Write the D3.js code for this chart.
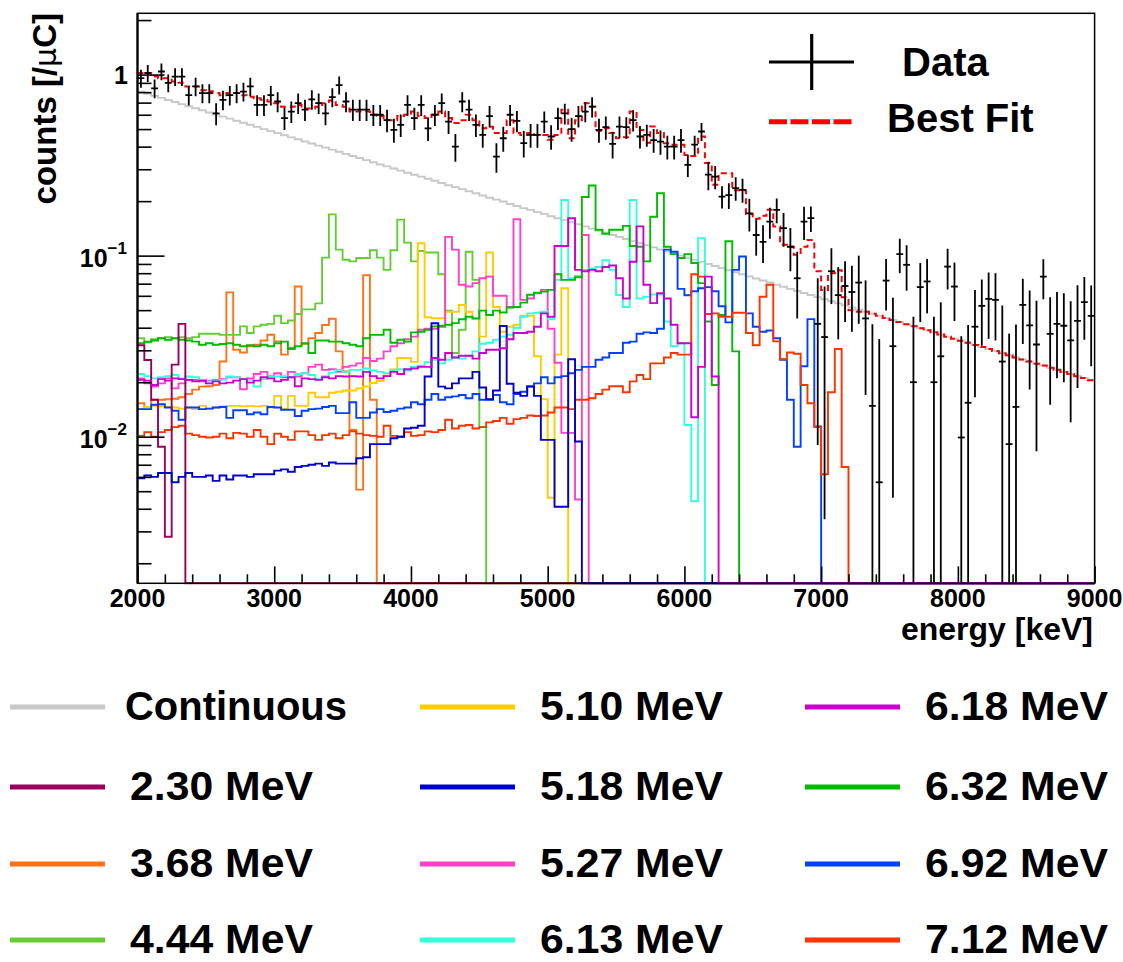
<!DOCTYPE html>
<html><head><meta charset="utf-8">
<script src="https://cdn.jsdelivr.net/npm/d3@7"></script>
<style>
body{margin:0;background:#fff}
svg{display:block}
text{font-family:"Liberation Sans",Arial,Helvetica,sans-serif;font-weight:bold;fill:#000}
</style>
</head><body>
<svg id="c" width="1123" height="962"></svg>
<script>
// ---------------- data ----------------
const binLow = 2000, binWidth = 50, nBins = 140;

const continuous = [0.805,0.784,0.764,0.744,0.724,0.705,0.687,0.669,0.652,0.635,
0.618,0.602,0.586,0.571,0.556,0.542,0.528,0.514,0.500,0.487,
0.475,0.462,0.450,0.439,0.427,0.416,0.405,0.395,0.385,0.375,
0.365,0.355,0.346,0.337,0.328,0.319,0.311,0.303,0.295,0.287,
0.280,0.273,0.266,0.259,0.252,0.245,0.239,0.233,0.227,0.221,
0.215,0.209,0.204,0.199,0.193,0.188,0.183,0.179,0.174,0.170,
0.165,0.161,0.157,0.153,0.149,0.145,0.141,0.137,0.134,0.130,
0.127,0.1235,0.1203,0.1171,0.1141,0.1111,0.1082,0.1054,0.1027,0.1000,
0.0974,0.0948,0.0924,0.0900,0.0876,0.0853,0.0831,0.0810,0.0789,0.0768,
0.0748,0.0729,0.0710,0.0691,0.0673,0.0655,0.0638,0.0622,0.0606,0.0590,
0.0574,0.0560,0.0545,0.0531,0.0517,0.0503,0.0490,0.0478,0.0465,0.0453,
0.0441,0.0430,0.0418,0.0408,0.0397,0.0387,0.0377,0.0367,0.0357,0.0348,
0.0339,0.0330,0.0321,0.0313,0.0305,0.0297,0.0289,0.0282,0.0274,0.0267,
0.0260,0.0253,0.0247,0.0240,0.0234,0.0228,0.0222,0.0216,0.0211,0.0205];

const bestFit = [1.02,1.02,0.975,0.955,0.955,0.915,0.90,0.86,0.86,0.82,
0.81,0.79,0.77,0.79,0.79,0.77,0.755,0.74,0.725,0.71,
0.695,0.665,0.665,0.68,0.65,0.65,0.665,0.695,0.72,0.68,
0.665,0.625,0.625,0.625,0.60,0.59,0.56,0.56,0.59,0.60,
0.625,0.59,0.575,0.60,0.625,0.575,0.54,0.56,0.60,0.56,
0.505,0.515,0.475,0.475,0.56,0.475,0.464,0.475,0.464,0.464,
0.436,0.464,0.64,0.445,0.56,0.695,0.665,0.49,0.505,0.475,
0.445,0.45,0.625,0.495,0.42,0.516,0.475,0.418,0.41,0.41,
0.36,0.355,0.455,0.325,0.246,0.285,0.285,0.23,0.23,0.17,
0.16,0.166,0.179,0.145,0.115,0.112,0.101,0.112,0.122,0.082,
0.0647,0.08,0.083,0.059,0.05,0.049,0.0490,0.0478,0.0465,0.0453,
0.0441,0.0430,0.0418,0.0408,0.0397,0.0387,0.0377,0.0367,0.0357,0.0348,
0.0339,0.0330,0.0321,0.0313,0.0305,0.0297,0.0289,0.0282,0.0274,0.0267,
0.0260,0.0253,0.0247,0.0240,0.0234,0.0228,0.0222,0.0216,0.0211,0.0205];

const dataVal = [0.955,1.02,0.84,1.04,0.90,0.975,0.975,0.77,0.86,0.79,
0.79,0.61,0.725,0.77,0.79,0.805,0.86,0.68,0.68,0.77,
0.71,0.575,0.625,0.695,0.64,0.73,0.695,0.61,0.75,0.875,
0.71,0.64,0.64,0.64,0.60,0.60,0.56,0.495,0.527,0.68,
0.575,0.68,0.505,0.60,0.695,0.55,0.40,0.71,0.64,0.527,
0.464,0.59,0.352,0.445,0.60,0.555,0.418,0.464,0.464,0.55,
0.455,0.575,0.61,0.50,0.59,0.625,0.665,0.495,0.512,0.414,
0.516,0.512,0.56,0.455,0.464,0.435,0.426,0.40,0.40,0.435,
0.317,0.41,0.485,0.28,0.273,0.212,0.216,0.236,0.231,0.171,
0.13,0.119,0.154,0.179,0.142,0.112,0.075,0.154,0.161,0.042,
0.0355,0.082,0.0605,0.068,0.063,0.071,0.045,0.0148,0.0056,0.0728,
0.0316,0.102,0.089,0.020,0.067,0.072,0.020,0.0278,0.087,0.0675,
0.0099,0.0154,0.0405,0.0528,0.0577,0.057,0.026,0.0091,0.0146,0.0535,
0.0412,0.0323,0.0765,0.037,0.042,0.041,0.034,0.0436,0.0553,0.0465];

const dataErr = [0.11,0.11,0.10,0.11,0.10,0.11,0.11,0.095,0.10,0.095,
0.095,0.085,0.09,0.095,0.095,0.095,0.10,0.09,0.09,0.095,
0.09,0.08,0.085,0.09,0.085,0.09,0.09,0.085,0.09,0.10,
0.09,0.085,0.085,0.085,0.08,0.08,0.08,0.075,0.075,0.09,
0.08,0.09,0.075,0.08,0.09,0.08,0.07,0.09,0.085,0.075,
0.07,0.08,0.065,0.07,0.08,0.075,0.07,0.07,0.07,0.075,
0.07,0.08,0.08,0.075,0.08,0.08,0.085,0.075,0.075,0.07,
0.07,0.07,0.075,0.065,0.065,0.065,0.065,0.06,0.06,0.065,
0.045,0.05,0.055,0.05,0.04,0.03,0.035,0.035,0.035,0.035,
0.03,0.028,0.03,0.028,0.03,0.03,0.03,0.032,0.026,0.033,
0.032,0.028,0.026,0.025,0.025,0.029,0.028,0.027,0.029,0.023,
0.027,0.022,0.025,0.026,0.024,0.024,0.026,0.0275,0.022,0.024,
0.026,0.026,0.024,0.021,0.023,0.023,0.027,0.028,0.027,0.021,
0.023,0.024,0.019,0.022,0.021,0.021,0.022,0.025,0.021,0.022];

const c230 = [0.032,0.0265,0.016,0.0088,0.0028,0.025,0.042];

const c368 = [0.0153,0.0146,0.016,0.016,0.0161,0.0162,0.0165,0.0172,0.0182,0.0189,
0.019,0.0193,0.026,0.0627,0.0302,0.0292,0.0316,0.0322,0.034,0.0366,
0.0336,0.0284,0.031,0.0676,0.0326,0.035,0.0374,0.0414,0.0448,0.0296,
0.0229,0.0109,0.0051,0.078,0.016];

const c444 = [0.035,0.0332,0.0345,0.035,0.0355,0.035,0.0355,0.035,0.0355,0.037,
0.037,0.037,0.0365,0.0365,0.0365,0.0407,0.0374,0.0407,0.0415,0.042,
0.0466,0.0424,0.0438,0.0476,0.0505,0.0505,0.0545,0.0975,0.169,0.108,
0.095,0.093,0.097,0.097,0.107,0.0975,0.0834,0.107,0.158,0.118,
0.093,0.106,0.104,0.104,0.079,0.0497,0.029,0.039,0.105,0.0735,
0.0113];

const c510 = [0.0142,0.0146,0.0148,0.0147,0.0146,0.0145,0.0143,0.0145,0.0142,0.0148,
0.0143,0.0145,0.0147,0.0148,0.0148,0.0147,0.0148,0.0147,0.0148,0.0145,
0.0168,0.0142,0.0168,0.0148,0.0148,0.0175,0.0165,0.0165,0.0175,0.0177,
0.018,0.018,0.0185,0.0189,0.0198,0.0203,0.0218,0.0235,0.0272,0.0272,
0.0259,0.117,0.0457,0.0451,0.0451,0.049,0.049,0.0534,0.049,0.0451,
0.0357,0.104,0.052,0.038,0.0405,0.0415,0.0466,0.0466,0.0278,0.0161,
0.0046,0.0284,0.066];

const c518 = [0.0059,0.0061,0.006,0.0063,0.0063,0.0056,0.006,0.0063,0.006,0.006,
0.0061,0.0057,0.0061,0.0058,0.0061,0.0061,0.006,0.0062,0.0062,0.0062,
0.0065,0.0066,0.0064,0.0068,0.0069,0.007,0.0071,0.0069,0.0072,0.0071,
0.0071,0.0071,0.0076,0.0077,0.0091,0.0091,0.0091,0.0098,0.010,0.0111,
0.0112,0.0115,0.0215,0.0423,0.0189,0.0185,0.0197,0.021,0.021,0.0228,
0.0187,0.0161,0.018,0.0409,0.0196,0.0175,0.0168,0.0189,0.0168,0.0096,
0.0096,0.0041,0.0041,0.0268,0.0094];

const c527 = [0.021,0.0197,0.0189,0.0197,0.021,0.0185,0.0197,0.0206,0.0206,0.0202,
0.0204,0.0206,0.0208,0.0213,0.0213,0.0183,0.021,0.0222,0.0228,0.0216,
0.0224,0.0213,0.0228,0.0215,0.0224,0.0243,0.025,0.0234,0.0236,0.0228,
0.0243,0.0247,0.0254,0.0272,0.0262,0.027,0.0296,0.0316,0.0328,0.0345,
0.0357,0.039,0.0395,0.0395,0.0405,0.127,0.108,0.069,0.0676,0.0705,
0.075,0.0766,0.06,0.06,0.052,0.159,0.057,0.058,0.062,0.0647,
0.0395,0.0256,0.0105,0.0105,0.0045,0.13];

const c613 = [0.0222,0.0216,0.021,0.0213,0.0216,0.0219,0.021,0.0215,0.0213,0.0206,
0.0202,0.0204,0.0206,0.0215,0.0213,0.0208,0.0206,0.0189,0.0208,0.0215,
0.0215,0.0216,0.0213,0.0222,0.0224,0.0219,0.0208,0.0216,0.0226,0.0234,
0.0228,0.0234,0.0234,0.0238,0.0232,0.0228,0.0224,0.0234,0.0236,0.0232,
0.0243,0.0247,0.0258,0.0266,0.0254,0.0266,0.0274,0.027,0.028,0.0296,
0.0326,0.033,0.0343,0.0357,0.0366,0.04,0.046,0.048,0.0484,0.049,
0.0445,0.0735,0.203,0.075,0.0773,0.0834,0.085,0.0866,0.0943,0.0834,
0.0606,0.052,0.203,0.058,0.0593,0.061,0.061,0.0433,0.0316,0.0328,
0.0116,0.0044,0.125];

const c618 = [0.0206,0.0204,0.0193,0.0208,0.0204,0.021,0.0208,0.0206,0.0202,0.0204,
0.0197,0.0202,0.0197,0.0199,0.0204,0.0208,0.0199,0.0204,0.0213,0.021,
0.0202,0.0206,0.0213,0.019,0.021,0.0208,0.0206,0.0213,0.021,0.0216,
0.0215,0.0216,0.0215,0.0228,0.0216,0.021,0.0216,0.0228,0.0222,0.0236,
0.0238,0.0243,0.0243,0.0272,0.0266,0.029,0.0274,0.028,0.028,0.027,
0.029,0.0302,0.0302,0.0308,0.0345,0.0374,0.0374,0.038,0.0405,0.048,
0.046,0.113,0.113,0.161,0.0834,0.082,0.0834,0.082,0.0866,0.0883,
0.075,0.058,0.0925,0.145,0.069,0.0547,0.062,0.058,0.0415,0.0328,
0.0328,0.0128,0.0243,0.0766,0.0215];

const c632 = [0.0328,0.0335,0.034,0.035,0.0343,0.035,0.0343,0.034,0.0335,0.0322,
0.0328,0.0322,0.0325,0.0328,0.0322,0.0316,0.032,0.0316,0.0322,0.0316,
0.0328,0.0335,0.0305,0.0316,0.0328,0.029,0.034,0.034,0.0335,0.0335,
0.0328,0.0322,0.0316,0.035,0.0365,0.0365,0.039,0.033,0.0343,0.0335,
0.0377,0.038,0.039,0.0407,0.041,0.0415,0.0424,0.0445,0.046,0.045,
0.0497,0.047,0.0497,0.0485,0.0517,0.052,0.055,0.0608,0.0625,0.0633,
0.0647,0.079,0.0735,0.0735,0.076,0.211,0.244,0.139,0.132,0.139,
0.139,0.146,0.113,0.112,0.093,0.164,0.221,0.112,0.102,0.097,
0.102,0.091,0.0705,0.0433,0.0193,0.047,0.12,0.0296];

const c692 = [0.0142,0.0142,0.015,0.0151,0.0145,0.0139,0.0124,0.0145,0.0145,0.0142,
0.0143,0.0145,0.0146,0.0127,0.014,0.014,0.0133,0.0136,0.0133,0.0146,
0.0145,0.0141,0.0141,0.013,0.0139,0.0142,0.0143,0.0146,0.0148,0.0135,
0.0135,0.0155,0.0127,0.0127,0.0136,0.0142,0.0137,0.0139,0.0143,0.0145,
0.0155,0.0151,0.016,0.0172,0.016,0.0165,0.0167,0.017,0.0163,0.0172,
0.016,0.016,0.017,0.0155,0.0151,0.0172,0.0177,0.019,0.0197,0.0213,
0.0197,0.0213,0.0216,0.0224,0.0234,0.0243,0.0243,0.0266,0.0274,0.029,
0.029,0.033,0.0335,0.037,0.0377,0.0374,0.0395,0.108,0.105,0.0655,
0.0604,0.0636,0.066,0.067,0.0636,0.0525,0.0428,0.0834,0.099,0.048,
0.0405,0.038,0.0386,0.035,0.0266,0.016,0.0088,0.0245,0.0446,0.0114];

const c712 = [0.0101,0.0106,0.010,0.0106,0.0109,0.0113,0.0115,0.0104,0.0102,0.010,
0.0099,0.010,0.0104,0.0098,0.0105,0.0104,0.010,0.0109,0.010,0.0091,
0.0104,0.010,0.0096,0.0107,0.0107,0.0102,0.0096,0.0102,0.0104,0.0098,
0.0102,0.0107,0.0104,0.0102,0.0101,0.010,0.0115,0.0101,0.010,0.0106,
0.0101,0.0102,0.0107,0.0106,0.0109,0.0124,0.0111,0.0115,0.0116,0.0111,
0.0113,0.012,0.0122,0.0127,0.0118,0.0125,0.0127,0.0131,0.013,0.0131,
0.0136,0.0145,0.0145,0.0142,0.016,0.016,0.0163,0.0172,0.0182,0.019,
0.019,0.0176,0.0202,0.0219,0.0208,0.0254,0.0254,0.0274,0.029,0.0284,
0.0284,0.079,0.0766,0.0476,0.048,0.046,0.046,0.0484,0.0484,0.0374,
0.032,0.0593,0.069,0.0336,0.0268,0.0292,0.0287,0.0193,0.0153,0.0113,
0.0062,0.0176,0.0305,0.0068];

const xTicks = [2000,3000,4000,5000,6000,7000,8000,9000];
const yMajor = [1, 0.1, 0.01];

// legend / series description (column-major order as in the legend)
const series = [
  {label:"Continuous", color:"#c8c8c8", values:continuous},
  {label:"2.30 MeV", color:"#99005c", values:c230},
  {label:"3.68 MeV", color:"#ff7316", values:c368},
  {label:"4.44 MeV", color:"#66cc33", values:c444},
  {label:"5.10 MeV", color:"#ffcc00", values:c510},
  {label:"5.18 MeV", color:"#0000cc", values:c518},
  {label:"5.27 MeV", color:"#ff40c8", values:c527},
  {label:"6.13 MeV", color:"#33ffdd", values:c613},
  {label:"6.18 MeV", color:"#cc00cc", values:c618},
  {label:"6.32 MeV", color:"#00bb00", values:c632},
  {label:"6.92 MeV", color:"#0040ff", values:c692},
  {label:"7.12 MeV", color:"#ff3300", values:c712}
];
const drawOrder = ["Continuous","3.68 MeV","4.44 MeV","5.10 MeV","5.27 MeV","6.13 MeV",
                   "6.32 MeV","6.92 MeV","7.12 MeV","2.30 MeV","5.18 MeV","6.18 MeV"];

// ---------------- drawing ----------------
const svg = d3.select("#c");
const X0 = 137.5, X1 = 1094.6, Y0 = 583.3, Y1 = 13.3;
const x = d3.scaleLinear().domain([2000, 9000]).range([X0, X1]);
const y = d3.scaleLog().domain([0.00155, 2.18]).range([Y0, Y1]).clamp(true);
const yv = v => (v > 0 ? y(v) : Y0);

svg.append("defs").append("clipPath").attr("id","clip")
  .append("rect").attr("x", X0).attr("y", Y1).attr("width", X1 - X0).attr("height", Y0 - Y1 + 1.5);

const plot = svg.append("g").attr("clip-path","url(#clip)");

function stepPoints(vals){
  const pts = [];
  for (let i = 0; i < nBins; i++){
    const v = vals[i] || 0;
    const e0 = binLow + i*binWidth;
    pts.push([e0, v], [e0 + binWidth, v]);
  }
  return pts;
}
const line = d3.line().x(d => x(d[0])).y(d => yv(d[1]));

drawOrder.forEach(name => {
  const s = series.find(t => t.label === name);
  plot.append("path").attr("d", line(stepPoints(s.values)))
    .attr("fill","none").attr("stroke", s.color).attr("stroke-width", 1.9)
    .attr("stroke-linejoin","miter");
});

// best fit
plot.append("path").attr("d", line(stepPoints(bestFit)))
  .attr("fill","none").attr("stroke","#ff0000").attr("stroke-width",2)
  .attr("stroke-dasharray","6,4");

// data with error bars
const dg = plot.append("g").attr("stroke","#000").attr("stroke-width",1.8);
dataVal.forEach((v, i) => {
  const e0 = binLow + i*binWidth, ec = e0 + binWidth/2;
  const err = dataErr[i];
  dg.append("line").attr("x1", x(ec)).attr("x2", x(ec))
    .attr("y1", yv(v + err)).attr("y2", yv(v - err));
  dg.append("line").attr("x1", x(e0)).attr("x2", x(e0 + binWidth))
    .attr("y1", yv(v)).attr("y2", yv(v));
});

// frame
svg.append("rect").attr("x", X0).attr("y", Y1).attr("width", X1 - X0).attr("height", Y0 - Y1)
  .attr("fill","none").attr("stroke","#000").attr("stroke-width",1.5);
svg.append("line").attr("x1", X0).attr("x2", X0).attr("y1", Y1).attr("y2", Y0)
  .attr("stroke","#000").attr("stroke-width",2.2);

// x axis ticks (pointing up into the plot)
const xMinor = d3.range(2000, 9001, 200).filter(v => v % 1000 !== 0);
const axX = svg.append("g").attr("transform", `translate(0,${Y0})`);
axX.call(d3.axisBottom(x).tickValues(xTicks).tickSize(-17).tickFormat(""));
axX.call(g => g.select(".domain").remove());
const axXm = svg.append("g").attr("transform", `translate(0,${Y0})`);
axXm.call(d3.axisBottom(x).tickValues(xMinor).tickSize(-9).tickFormat(""));
axXm.call(g => g.select(".domain").remove());
svg.selectAll(".tick line").attr("stroke","#000").attr("stroke-width",1.6);

xTicks.forEach(t => {
  svg.append("text").attr("x", x(t)).attr("y", 607).attr("text-anchor","middle")
    .attr("font-size", 25).text(t);
});
svg.append("text").attr("x", 1093).attr("y", 640).attr("text-anchor","end")
  .attr("font-size", 31).attr("textLength", 192).attr("lengthAdjust","spacingAndGlyphs")
  .text("energy [keV]");

// y axis ticks (pointing right into the plot)
const yMinor = [];
[0.001, 0.01, 0.1, 1].forEach(d => { for (let k = 2; k <= 9; k++){ const v = d*k; if (v >= 0.00155 && v <= 2.18) yMinor.push(v); } });
const axY = svg.append("g").attr("transform", `translate(${X0},0)`);
axY.call(d3.axisLeft(y).tickValues(yMajor).tickSize(-27).tickFormat(""));
axY.call(g => g.select(".domain").remove());
const axYm = svg.append("g").attr("transform", `translate(${X0},0)`);
axYm.call(d3.axisLeft(y).tickValues(yMinor).tickSize(-14).tickFormat(""));
axYm.call(g => g.select(".domain").remove());
svg.selectAll(".tick line").attr("stroke","#000").attr("stroke-width",1.6);

// y tick labels
svg.append("text").attr("x", 128).attr("y", y(1) + 9).attr("text-anchor","end")
  .attr("font-size", 25).text("1");
[[0.1,"\u22121"],[0.01,"\u22122"]].forEach(([v, ex]) => {
  const t = svg.append("text").attr("x", 127).attr("y", y(v) + 11).attr("text-anchor","end").attr("font-size", 25);
  t.append("tspan").text("10");
  t.append("tspan").attr("dy", -13).attr("font-size", 17).text(ex);
});

// y axis title
const yt = svg.append("text").attr("transform","translate(56,13) rotate(-90)")
  .attr("text-anchor","end").attr("font-size", 33);
yt.append("tspan").text("counts [/");
yt.append("tspan").attr("font-weight","normal").attr("font-family","DejaVu Sans").attr("font-size",30).text("\u03bc");
yt.append("tspan").text("C]");

// legend inside plot
svg.append("line").attr("x1",769).attr("x2",854).attr("y1",62).attr("y2",62).attr("stroke","#000").attr("stroke-width",3.2);
svg.append("line").attr("x1",811.7).attr("x2",811.7).attr("y1",34).attr("y2",90).attr("stroke","#000").attr("stroke-width",3.2);
svg.append("text").attr("x",902).attr("y",76).attr("font-size",40).text("Data");
svg.append("line").attr("x1",769).attr("x2",854).attr("y1",121.7).attr("y2",121.7)
  .attr("stroke","#ff0000").attr("stroke-width",5).attr("stroke-dasharray","18,3.5");
svg.append("text").attr("x",887).attr("y",132).attr("font-size",40).text("Best Fit");

// bottom legend
const colLine = [[10,105],[420,515],[805,900]];
const colText = [130, 540, 925];
const rowY = [707, 787, 864, 940];
series.forEach((s, k) => {
  const c = Math.floor(k/4), r = k % 4;
  svg.append("line").attr("x1", colLine[c][0]).attr("x2", colLine[c][1])
    .attr("y1", rowY[r]).attr("y2", rowY[r]).attr("stroke", s.color).attr("stroke-width", 5);
  const first = k === 0;
  svg.append("text").attr("x", first ? 125 : colText[c]).attr("y", rowY[r] + 13)
    .attr("font-size", 40)
    .attr("textLength", first ? 222 : 183).attr("lengthAdjust","spacingAndGlyphs")
    .text(s.label);
});
</script>
</body></html>
